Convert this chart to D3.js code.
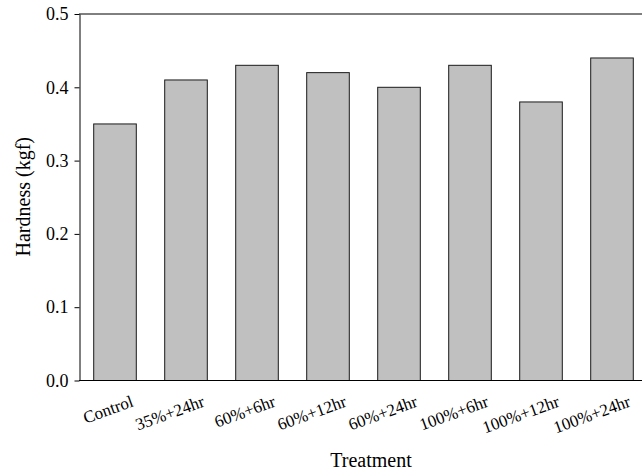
<!DOCTYPE html>
<html lang="en">
<head>
  <meta charset="UTF-8">
  <title>Hardness</title>
  <style>
    body { margin: 0; background: #fff; }
    text { font-family: "Liberation Serif", "Times New Roman", serif; fill: #000; }
  </style>
</head>
<body>
<script src="https://d3js.org/d3.v7.min.js"></script>
<script>
  // data
  var treatments = ["Control", "35%+24hr", "60%+6hr", "60%+12hr", "60%+24hr", "100%+6hr", "100%+12hr", "100%+24hr"];
  var hardness = [0.35, 0.41, 0.43, 0.42, 0.40, 0.43, 0.38, 0.44];
  var yTicks = [0.0, 0.1, 0.2, 0.3, 0.4, 0.5];

  var w = 642, h = 475;
  var plotLeft = 79, plotTop = 13.5, plotBottom = 380;

  var svg = d3.select("body").append("svg")
    .attr("width", w)
    .attr("height", h);

  // plot area runs a little past the right edge (the original is cropped there)
  var x = d3.scaleBand()
    .domain(treatments)
    .range([plotLeft, 647])
    .paddingInner(0.4)
    .paddingOuter(0.2);

  var y = d3.scaleLinear()
    .domain([0, 0.5])
    .range([plotBottom, plotTop]);

  // bars
  svg.append("g")
    .selectAll("rect")
    .data(hardness)
    .enter()
    .append("rect")
    .attr("x", function(d, i) { return x(treatments[i]) + 0.5; })
    .attr("y", function(d) { return y(d) + 0.5; })
    .attr("width", x.bandwidth())
    .attr("height", function(d) { return y(0) - y(d); })
    .attr("fill", "#c0c0c0")
    .attr("stroke", "#1a1a1a")
    .attr("stroke-width", 1);

  // top border and bottom axis line
  svg.append("line")
    .attr("x1", plotLeft).attr("x2", w)
    .attr("y1", y(0.5) + 0.5).attr("y2", y(0.5) + 0.5)
    .attr("stroke", "#000");
  svg.append("line")
    .attr("x1", plotLeft).attr("x2", w)
    .attr("y1", y(0) + 0.5).attr("y2", y(0) + 0.5)
    .attr("stroke", "#000");

  // y axis
  var yAxis = d3.axisLeft(y)
    .tickValues(yTicks)
    .tickFormat(d3.format(".1f"))
    .tickSize(5)
    .tickSizeOuter(0)
    .tickPadding(6);

  var gy = svg.append("g")
    .attr("transform", "translate(" + (plotLeft + 0.5) + ",0.5)")
    .call(yAxis);
  gy.selectAll("path, line").attr("stroke", "#000");
  gy.selectAll("text")
    .style("font-family", '"Liberation Serif", "Times New Roman", serif')
    .attr("font-size", 18)
    .attr("fill", "#000");

  // x category labels, rotated
  svg.append("g")
    .selectAll("text")
    .data(treatments)
    .enter()
    .append("text")
    .attr("text-anchor", "end")
    .attr("font-size", 17)
    .attr("transform", function(d) {
      return "translate(" + (x(d) + x.bandwidth() / 2 + 20) + ",406) rotate(-20)";
    })
    .text(function(d) { return d; });

  // axis titles
  svg.append("text")
    .attr("x", 371)
    .attr("y", 467)
    .attr("text-anchor", "middle")
    .attr("font-size", 20)
    .text("Treatment");

  svg.append("text")
    .attr("transform", "translate(30," + ((plotTop + plotBottom) / 2) + ") rotate(-90)")
    .attr("text-anchor", "middle")
    .attr("font-size", 20)
    .text("Hardness (kgf)");
</script>
</body>
</html>
